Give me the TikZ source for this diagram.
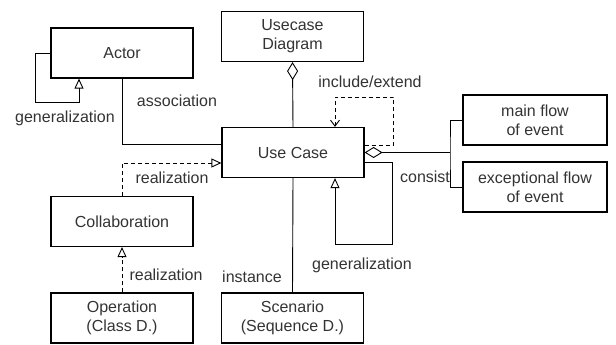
\documentclass[tikz,border=0pt]{standalone}
\usepackage{fontspec}
\setmainfont{Liberation Sans}
\usepackage{tikz}
\usetikzlibrary{arrows.meta}
\usetikzlibrary{positioning}

\tikzset{
	box/.style={draw, line width=1.2pt, rectangle, minimum width=142pt, minimum height=50pt, inner sep=0pt, align=center, text=black!80},
	lbl/.style={text=black!80, inner sep=0pt},
	conn/.style={line width=0.9pt},
	gen/.style={conn, -{Triangle[open,length=10pt,width=9pt]}},
	real/.style={conn, dashed, dash pattern=on 4pt off 3pt, -{Triangle[open,length=10pt,width=9pt]}},
	incl/.style={conn, dashed, dash pattern=on 4pt off 3pt, -{Straight Barb[length=6pt,width=9pt]}},
	agg/.style={conn, {Diamond[open,length=18pt,width=11pt]}-}
}

\begin{document}
\begin{tikzpicture}[x=1pt, y=-1pt, font=\fontsize{16}{19}\selectfont]
			\useasboundingbox (0,0) rectangle (616,345);
			
			\node[box] (actor) at (122,53) {Actor};
			\node[box] (ucdiagram) at (292.5,36.5) {Usecase\\Diagram};
			\node[box] (usecase) at (293,152.5) {Use Case};
			\node[box, minimum width=144pt] (mainflow) at (535,120) {main flow\\of event};
			\node[box, minimum width=144pt] (excflow) at (535,187) {exceptional flow\\of event};
			\node[box] (collab) at (122,221.5) {Collaboration};
			\node[box] (operation) at (122,318) {Operation\\(Class D.)};
			\node[box] (scenario) at (292.5,318) {Scenario\\(Sequence D.)};
			\coordinate (fork) at (450,152.5);
			
			% actor
			\draw[gen] (actor.west) -- ++(-15,0) -- ++(0,49) -| ([xshift=-43pt]actor.south);
			\node[lbl] (gen1) at (65,118) {generalization};
			\draw[conn] (actor.south) |- ([yshift=8.5pt]usecase.west);
			\node[lbl] (assoc) at (177,101) {association};
			
			% realization
			\draw[real] (collab.north) |- ([yshift=-10.5pt]usecase.west);
			\node[lbl] (real1) at (172,178) {realization};
			\draw[real] (operation.north) -- (collab.south);
			\node[lbl] (real2) at (166,275) {realization};
			
			% use case
			\draw[agg] (ucdiagram.south) -- (usecase.north);
			\draw[incl] ([yshift=7.5pt]usecase.east) -- ++(29,0) -- ++(0,-48) -| ([xshift=42pt]usecase.north);
			\node[lbl] (incext) at (370,82) {include/extend};
			\draw[gen] ([yshift=-9.5pt]usecase.east) -- ++(28,0) -- ++(0,82) -| ([xshift=42pt]usecase.south);
			\node[lbl] (gen2) at (362,265) {generalization};
			\draw[conn] (usecase.south) -- (scenario.north);
			\node[lbl] (inst) at (252,277) {instance};
			
			% consist
			\draw[agg] (usecase.east) -- (fork);
			\draw[conn] (mainflow.west) -| (fork) |- (excflow.west);
			\node[lbl] (cons) at (425,177) {consist};
\end{tikzpicture}
\end{document}
